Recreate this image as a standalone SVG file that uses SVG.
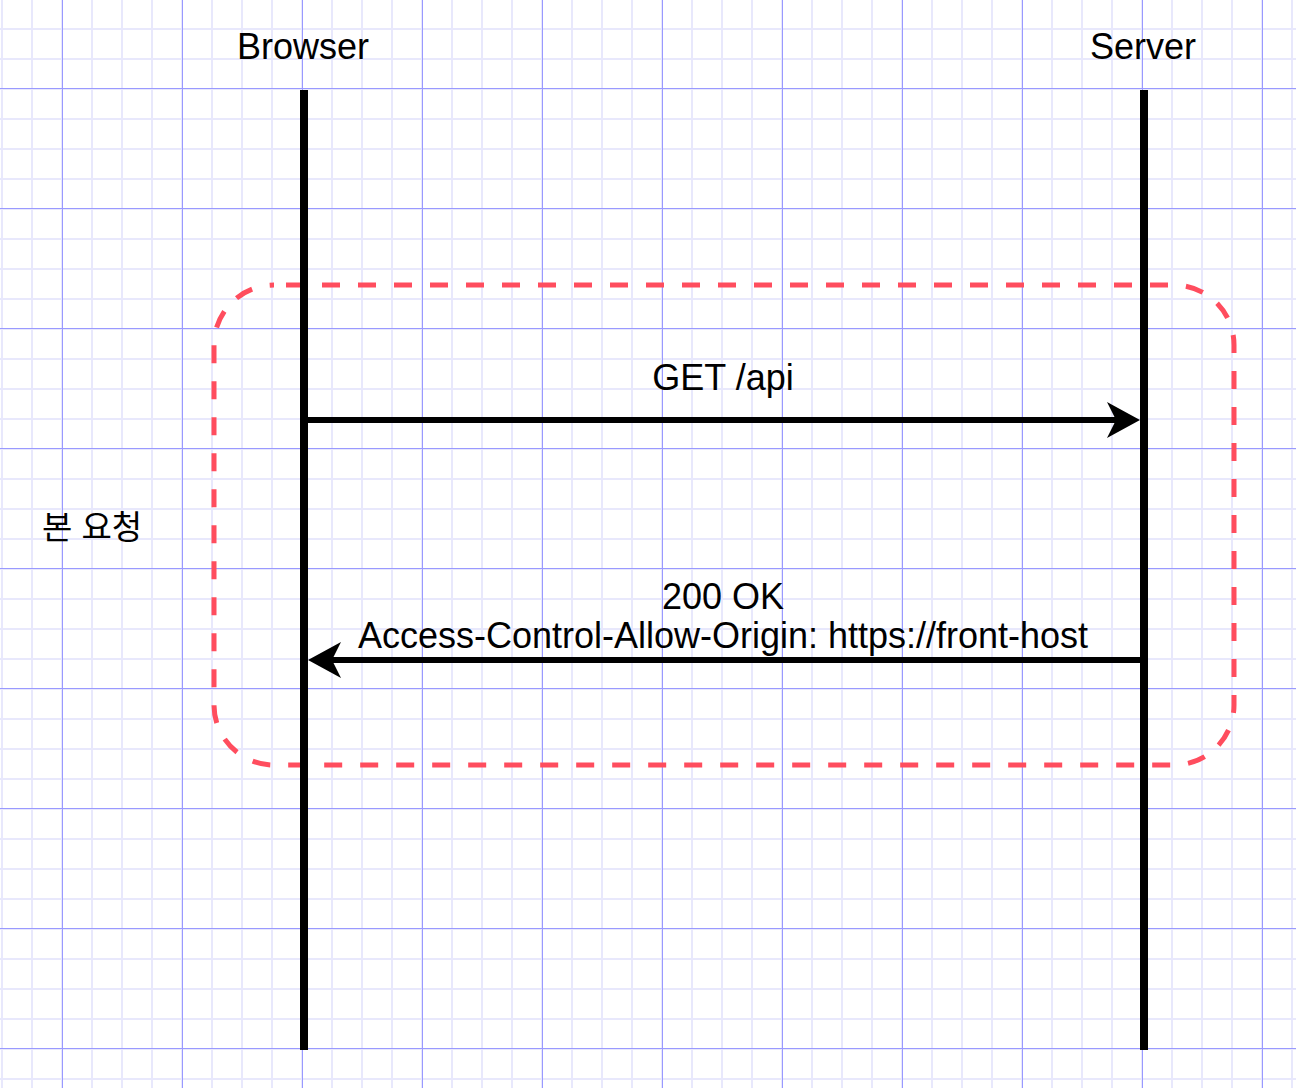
<svg xmlns="http://www.w3.org/2000/svg" width="1296" height="1088" viewBox="0 0 1296 1088">
  <style>
    .lbl { font-family: "Liberation Sans", Arial, Helvetica, sans-serif; font-size: 36px; fill: #000000; text-anchor: middle; }
    .kr { font-family: "Liberation Sans", "Noto Sans CJK KR", sans-serif; font-size: 33px; fill: #000000; text-anchor: middle; }
    .life { stroke: #000000; stroke-width: 8; fill: none; }
    .msg { stroke: #000000; stroke-width: 6; fill: none; }
    .head { fill: #000000; stroke: none; }
    .frame { fill: none; stroke: #ff4d5e; stroke-width: 5; stroke-dasharray: 18 18; stroke-dashoffset: 24; }
  </style>
  <defs>
    <pattern id="grid" patternUnits="userSpaceOnUse" x="-13" y="13" width="120" height="120">
      <g fill="#e8e8fc">
        <rect x="14" y="0" width="2" height="120"/>
        <rect x="44" y="0" width="2" height="120"/>
        <rect x="74" y="0" width="2" height="120"/>
        <rect x="104" y="0" width="2" height="120"/>
        <rect x="0" y="15" width="120" height="2"/>
        <rect x="0" y="45" width="120" height="2"/>
        <rect x="0" y="75" width="120" height="2"/>
        <rect x="0" y="105" width="120" height="2"/>
      </g>
      <g fill="#9999ff">
        <rect x="75" y="0" width="1" height="120"/>
        <rect x="0" y="75" width="120" height="1"/>
      </g>
    </pattern>
  </defs>
  <rect x="0" y="0" width="1296" height="1088" fill="#ffffff"/>
  <rect x="0" y="0" width="1296" height="1088" fill="url(#grid)"/>

  <g id="frame-main-request">
    <rect class="frame" x="214" y="285" width="1020" height="480" rx="60" ry="60"/>
  </g>

  <g id="browser">
    <text class="lbl" x="303" y="59">Browser</text>
    <line class="life" x1="304" y1="90" x2="304" y2="1050"/>
  </g>

  <g id="server">
    <text class="lbl" x="1143" y="59">Server</text>
    <line class="life" x1="1144" y1="90" x2="1144" y2="1050"/>
  </g>

  <g id="label-main-request">
    <text class="kr" x="92" y="539">본 요청</text>
  </g>

  <g id="connectors">
    <g id="msg-get">
      <line class="msg" x1="308" y1="420" x2="1118" y2="420"/>
      <polygon class="head" points="1140,420 1107,402 1116,420 1107,438"/>
      <text class="lbl" x="723" y="390">GET /api</text>
    </g>
    <g id="msg-200">
      <line class="msg" x1="1140" y1="660" x2="330" y2="660"/>
      <polygon class="head" points="308,660 341,642 332,660 341,678"/>
      <text class="lbl" x="723" y="609">200 OK</text>
      <text class="lbl" x="723" y="648">Access-Control-Allow-Origin: https://front-host</text>
    </g>
  </g>
</svg>
